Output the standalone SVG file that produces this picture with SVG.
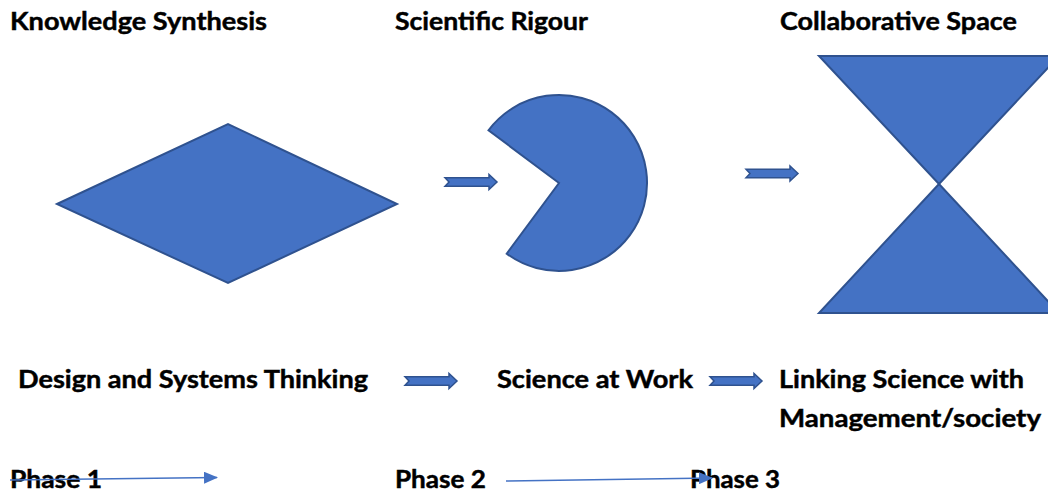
<svg xmlns="http://www.w3.org/2000/svg" width="1048" height="495" viewBox="0 0 1048 495">
<style>
  .lbl { font-family: Lato, "Open Sans", "Liberation Sans", sans-serif; font-weight: bold; font-size: 24px; fill: #000; stroke: #000; stroke-width: 0.45; }
  .shape { fill: #4472C4; stroke: #2F528F; stroke-width: 2; stroke-linejoin: miter; }
  .blk { fill: #4472C4; stroke: #2F528F; stroke-width: 1.5; }
  .thin { stroke: #4472C4; stroke-width: 1.5; fill: none; }
</style>
<defs>
  <path id="blockArrow" d="M0,-4.3 L44,-4.3 L44,-7.5 L52,0 L44,7.5 L44,4.3 L0,4.3 L4,0 Z"/>
  <marker id="tri" viewBox="0 0 14 12" refX="13" refY="6" markerWidth="14" markerHeight="12" markerUnits="userSpaceOnUse" orient="auto">
    <path d="M0,0 L14,6 L0,12 Z" fill="#4472C4"/>
  </marker>
</defs>
<rect width="1048" height="495" fill="#fff"/>

<g id="knowledge-synthesis">
  <text class="lbl" x="10" y="30" textLength="257" lengthAdjust="spacingAndGlyphs">Knowledge Synthesis</text>
  <polygon class="shape" points="57,204 228,124 397,204 228,283"/>
</g>
<g id="scientific-rigour">
  <text class="lbl" x="395" y="30" textLength="193" lengthAdjust="spacingAndGlyphs">Scientific Rigour</text>
  <path class="shape" d="M559,183 L488.5,130.3 A88,88 0 1,1 506.7,253.7 Z"/>
</g>
<g id="collaborative-space">
  <text class="lbl" x="780" y="30" textLength="237" lengthAdjust="spacingAndGlyphs">Collaborative Space</text>
  <polygon class="shape" points="819,56 1059,56 939,184"/>
  <polygon class="shape" points="939,184 819,313 1059,313"/>
</g>
<g id="design-systems-thinking">
  <text class="lbl" x="18" y="388" textLength="350" lengthAdjust="spacingAndGlyphs">Design and Systems Thinking</text>
</g>
<g id="science-at-work">
  <text class="lbl" x="497" y="388" textLength="196" lengthAdjust="spacingAndGlyphs">Science at Work</text>
</g>
<g id="linking-science">
  <text class="lbl" x="779" y="388" textLength="245" lengthAdjust="spacingAndGlyphs">Linking Science with</text>
  <text class="lbl" x="779" y="427" textLength="262" lengthAdjust="spacingAndGlyphs">Management/society</text>
</g>
<g id="phase-1">
  <text class="lbl" x="10" y="488" textLength="92" lengthAdjust="spacingAndGlyphs">Phase 1</text>
</g>
<g id="phase-2">
  <text class="lbl" x="395" y="488" textLength="91" lengthAdjust="spacingAndGlyphs">Phase 2</text>
</g>
<g id="phase-3">
  <text class="lbl" x="690" y="488" textLength="90" lengthAdjust="spacingAndGlyphs">Phase 3</text>
</g>

<g id="connectors">
  <use href="#blockArrow" class="blk" transform="translate(445,182)"/>
  <use href="#blockArrow" class="blk" transform="translate(746,173.5)"/>
  <use href="#blockArrow" class="blk" transform="translate(405,381)"/>
  <use href="#blockArrow" class="blk" transform="translate(710,381)"/>
  <line class="thin" x1="10" y1="480" x2="217" y2="477.5" marker-end="url(#tri)"/>
  <line class="thin" x1="506" y1="481" x2="712" y2="478" marker-end="url(#tri)"/>
</g>
</svg>
